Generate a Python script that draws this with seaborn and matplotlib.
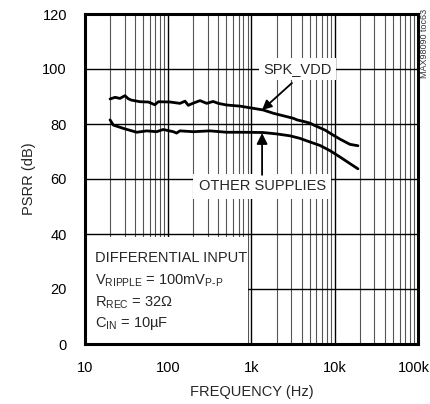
import numpy as np
import pandas as pd
import seaborn as sns
import matplotlib.pyplot as plt
from matplotlib.patches import Rectangle
from matplotlib.transforms import ScaledTranslation
from matplotlib.ticker import FixedLocator, FuncFormatter, NullFormatter

# values
freq_spk = [20, 23, 26.3, 30.2, 33, 36, 45.8, 57.7, 69, 76, 105, 138, 159, 174,
            200, 241, 290, 345, 400, 503, 728, 1050, 1380, 1830, 2630, 3160,
            3520, 4390, 5050, 5790, 7640, 9530, 11560, 15240, 19000]
psrr_spk = [89.1, 89.7, 89.3, 90.3, 89.2, 88.7, 88.1, 88.0, 87.0, 88.1, 88.0, 87.5,
            88.3, 86.8, 87.6, 88.5, 87.5, 88.2, 87.5, 86.9, 86.5, 85.7, 85.1, 83.9,
            82.7, 82.1, 81.5, 80.8, 80.3, 79.4, 77.8, 76.0, 74.5, 72.6, 72.1]

freq_other = [20, 21.9, 28.9, 41.7, 55.2, 72.6, 86.9, 115, 126, 138, 200, 317,
              503, 797, 1380, 2000, 2900, 3800, 5000, 6650, 8770, 11560, 15240, 19000]
psrr_other = [81.5, 79.6, 78.4, 77.0, 77.5, 77.2, 78.0, 77.2, 76.7, 77.5, 77.2, 77.5,
              77.0, 77.0, 76.9, 76.4, 75.7, 74.8, 73.5, 72.2, 70.3, 68.0, 65.6, 63.7]

x_ticks = [10, 100, 1000, 10000, 100000]
x_labels = ["10", "100", "1k", "10k", "100k"]
y_ticks = [0, 20, 40, 60, 80, 100, 120]

df = pd.concat([
    pd.DataFrame({"freq": freq_spk, "psrr": psrr_spk, "supply": "SPK_VDD"}),
    pd.DataFrame({"freq": freq_other, "psrr": psrr_other, "supply": "OTHER SUPPLIES"}),
])

sns.set_style("white")
plt.rcParams["font.family"] = ["Liberation Sans", "DejaVu Sans"]
plt.rcParams["mathtext.fontset"] = "custom"
plt.rcParams["mathtext.rm"] = "Liberation Sans"
plt.rcParams["mathtext.it"] = "Liberation Sans"
fs = 10.5

fig = plt.figure(figsize=(4.31, 4.04), dpi=100)
ax = fig.add_axes([85 / 431, 1 - 344 / 404, 333 / 431, 330 / 404])

sns.lineplot(data=df, x="freq", y="psrr", units="supply", estimator=None,
             color="black", linewidth=2.0, ax=ax, zorder=3)

ax.set_xscale("log")
ax.set_xlim(10, 100000)
ax.set_ylim(0, 120)

# grid drawn by hand so the text box can hide it while the ticks stay on top
minor = [m * 10 ** d for d in range(1, 5) for m in range(2, 10)]
for f in minor:
    ax.axvline(f, color="#555555", lw=0.8, zorder=0.5)
for f in x_ticks[1:-1]:
    ax.axvline(f, color="black", lw=1.0, zorder=0.5)
for v in y_ticks[1:-1]:
    ax.axhline(v, color="black", lw=1.0, zorder=0.5)
ax.grid(False)

ax.xaxis.set_major_locator(FixedLocator(x_ticks))
ax.xaxis.set_major_formatter(FuncFormatter(lambda v, p: x_labels[x_ticks.index(v)] if v in x_ticks else ""))
ax.xaxis.set_minor_locator(FixedLocator(minor))
ax.xaxis.set_minor_formatter(NullFormatter())
ax.set_yticks(y_ticks)
ax.tick_params(axis="both", which="both", direction="in", labelsize=fs,
               colors="black", width=1.0, zorder=4)
ax.tick_params(axis="x", which="major", length=5, pad=12)
ax.tick_params(axis="x", which="minor", length=4)
ax.tick_params(axis="y", which="major", length=0, pad=13)

# keep the last label inside the figure
last = ax.get_xticklabels()[-1]
last.set_transform(last.get_transform() + ScaledTranslation(-4 / 100, 0, fig.dpi_scale_trans))

for s in ax.spines.values():
    s.set_linewidth(2.2)
    s.set_color("black")
    s.set_zorder(5)

ax.set_xlabel("FREQUENCY (Hz)", fontsize=fs)
ax.set_ylabel("PSRR (dB)", fontsize=fs)
ax.xaxis.set_label_coords(0.5, -0.125)
ax.yaxis.set_label_coords(-0.147, 0.5)

# condition box, lower left
ax.add_patch(Rectangle((0, 0), 0.49, 0.324, transform=ax.transAxes,
                       facecolor="white", edgecolor="none", zorder=2))
box_lines = [
    "DIFFERENTIAL INPUT",
    r"$\mathrm{V_{RIPPLE}}$ = 100$\mathrm{mV_{P\text{-}P}}$",
    r"$\mathrm{R_{REC}}$ = 32Ω",
    r"$\mathrm{C_{IN}}$ = 10µF",
]
for txt, yb in zip(box_lines, [0.249, 0.179, 0.113, 0.0525]):
    ax.text(0.03, yb, txt, transform=ax.transAxes, fontsize=fs,
            va="baseline", ha="left", zorder=3)

ax.text(3600, 100, "SPK_VDD", fontsize=fs, ha="center", va="center",
        bbox=dict(facecolor="white", edgecolor="none", pad=3), zorder=3)
ax.annotate("", xy=(1340, 85.1), xytext=(3060, 94.9),
            arrowprops=dict(arrowstyle="-|>", color="black", lw=1.3,
                            mutation_scale=14, shrinkA=0, shrinkB=0), zorder=4)
ax.text(1340, 57.3, "OTHER SUPPLIES", fontsize=fs, ha="center", va="center",
        bbox=dict(facecolor="white", edgecolor="none", pad=4), zorder=3)
ax.annotate("", xy=(1340, 76.7), xytext=(1340, 61.5),
            arrowprops=dict(arrowstyle="-|>", color="black", lw=1.3,
                            mutation_scale=16, shrinkA=0, shrinkB=0), zorder=4)

fig.text(425 / 431, 1 - 9 / 404, "MAX98090 toc63", rotation=90, fontsize=6.5,
         ha="center", va="top", color="#333333")

fig.savefig("out.png", dpi=100)
